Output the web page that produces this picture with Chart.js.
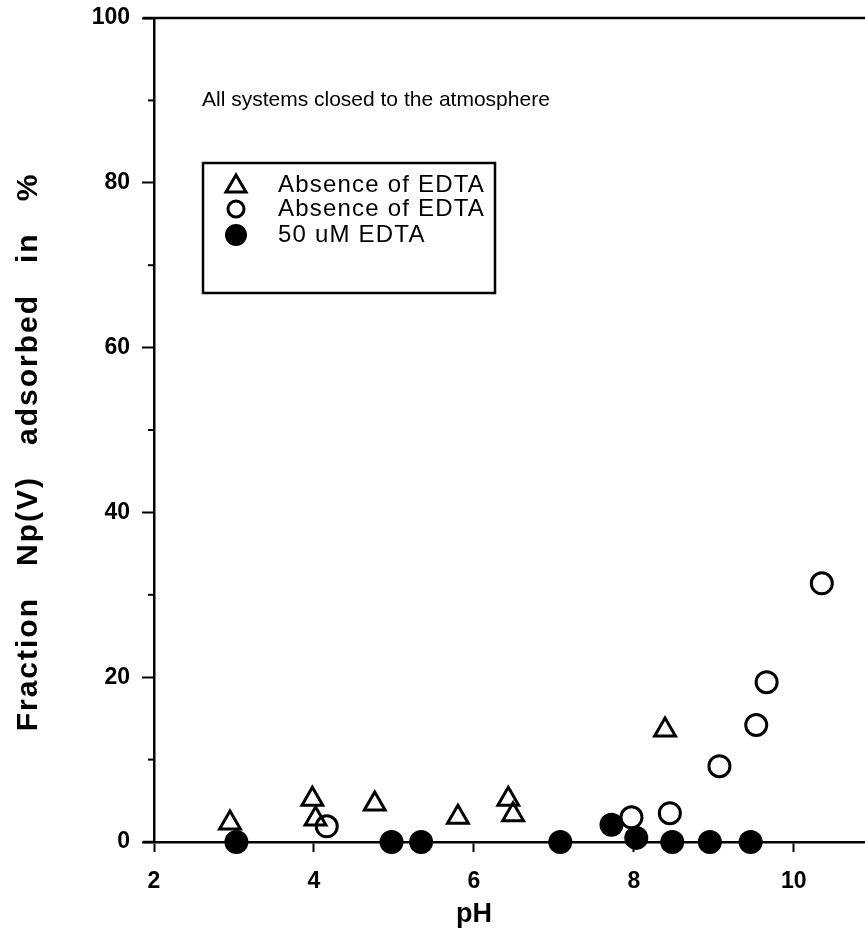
<!DOCTYPE html>
<html>
<head>
<meta charset="utf-8">
<script src="https://cdn.jsdelivr.net/npm/chart.js@4.4.1/dist/chart.umd.min.js"></script>
<style>
    html, body { margin: 0; padding: 0; background: #fff; overflow: hidden; }
    #wrap { width: 880px; height: 943px; }
</style>
</head>
<body>
<div id="wrap"><canvas id="c" width="880" height="943"></canvas></div>
<script>
// pH vs fraction adsorbed (%)
const triPH = [2.95, 3.98, 4.02, 4.76, 5.8, 6.43, 6.49, 8.39];
const triVal = [2.3, 5.2, 2.8, 4.6, 3.0, 5.2, 3.3, 13.6];

const openPH = [4.16, 7.97, 8.45, 9.07, 9.53, 9.66, 10.35];
const openVal = [1.9, 3.0, 3.5, 9.2, 14.2, 19.4, 31.4];

const fillPH = [3.03, 4.97, 5.34, 7.08, 7.72, 8.03, 8.48, 8.95, 9.46];
const fillVal = [0, 0, 0, 0, 2.1, 0.5, 0, 0, 0];

const xTicks = [2, 4, 6, 8, 10];
const yTicks = [0, 20, 40, 60, 80, 100];
const yMinor = [10, 30, 50, 70, 90];

const legendLabels = ["Absence of EDTA", "Absence of EDTA", "50 uM EDTA"];
const noteText = "All systems closed to the atmosphere";
const xTitle = "pH";
const yTitle = "Fraction   Np(V)   adsorbed   in   %";

const FONT = "'Liberation Sans', Arial, sans-serif";

function pts(xs, ys) {
    return xs.map(function (x, i) {
        return { x: x, y: ys[i] };
    });
}

function noPad(s) {
    s.paddingLeft = 0;
    s.paddingRight = 0;
    s.paddingTop = 0;
    s.paddingBottom = 0;
}

// axis titles, note, legend box and the top frame line
const decorations = {
    id: "decorations",
    afterDraw: function (chart) {
        const ctx = chart.ctx;
        const a = chart.chartArea;
        const xs = chart.scales.x;
        const ys = chart.scales.y;
        ctx.save();
        ctx.strokeStyle = "#000";
        ctx.fillStyle = "#000";

        // top frame line
        ctx.lineWidth = 2.5;
        ctx.beginPath();
        ctx.moveTo(a.left - 11, a.top);
        ctx.lineTo(chart.width, a.top);
        ctx.stroke();
        // baseline stub left of the y axis
        ctx.beginPath();
        ctx.moveTo(a.left - 11, a.bottom);
        ctx.lineTo(a.left, a.bottom);
        ctx.stroke();
        // minor y ticks
        ctx.lineWidth = 2;
        yMinor.forEach(function (v) {
            const py = ys.getPixelForValue(v);
            ctx.beginPath();
            ctx.moveTo(a.left - 6, py);
            ctx.lineTo(a.left, py);
            ctx.stroke();
        });

        // y title
        ctx.save();
        ctx.translate(29, 452);
        ctx.rotate(-Math.PI / 2);
        ctx.font = "bold 30px " + FONT;
        ctx.letterSpacing = "2px";
        ctx.textAlign = "center";
        ctx.textBaseline = "middle";
        ctx.fillText(yTitle, 0, 0);
        ctx.restore();

        // x title
        ctx.font = "bold 27px " + FONT;
        ctx.textAlign = "center";
        ctx.textBaseline = "middle";
        ctx.fillText(xTitle, xs.getPixelForValue(6), 915);

        // note
        ctx.font = "21px " + FONT;
        ctx.textAlign = "left";
        ctx.fillText(noteText, xs.getPixelForValue(2.6), ys.getPixelForValue(90));

        // legend box
        const bx = 203, by = 163, bw = 292, bh = 130;
        ctx.lineWidth = 2.5;
        ctx.strokeRect(bx, by, bw, bh);
        const rows = [185, 209, 235];
        const mx = 236;
        ctx.font = "24px " + FONT;
        ctx.letterSpacing = "1.2px";
        legendLabels.forEach(function (t, i) {
            ctx.fillText(t, 278, rows[i]);
        });
        ctx.letterSpacing = "0px";
        ctx.lineWidth = 3;
        // triangle
        ctx.beginPath();
        ctx.moveTo(mx, rows[0] - 10);
        ctx.lineTo(mx + 10, rows[0] + 7);
        ctx.lineTo(mx - 10, rows[0] + 7);
        ctx.closePath();
        ctx.stroke();
        // open circle
        ctx.beginPath();
        ctx.arc(mx, rows[1], 8, 0, Math.PI * 2);
        ctx.stroke();
        // filled circle
        ctx.beginPath();
        ctx.arc(mx, rows[2], 11, 0, Math.PI * 2);
        ctx.fill();

        ctx.restore();
    },
};

const ctx = document.getElementById("c").getContext("2d");
new Chart(ctx, {
    type: "scatter",
    data: {
        datasets: [
            {
                label: legendLabels[0],
                data: pts(triPH, triVal),
                pointStyle: "triangle",
                pointRadius: 12,
                borderWidth: 3,
                borderColor: "#000",
                backgroundColor: "rgba(255,255,255,0)",
                clip: false,
            },
            {
                label: legendLabels[1],
                data: pts(openPH, openVal),
                pointStyle: "circle",
                pointRadius: 10.5,
                borderWidth: 3,
                borderColor: "#000",
                backgroundColor: "#fff",
                clip: false,
            },
            {
                label: legendLabels[2],
                data: pts(fillPH, fillVal),
                pointStyle: "circle",
                pointRadius: 12,
                borderWidth: 0,
                borderColor: "#000",
                backgroundColor: "#000",
                clip: false,
            },
        ],
    },
    options: {
        responsive: false,
        animation: false,
        layout: { padding: { top: 18, right: 6, left: 0, bottom: 0 } },
        plugins: {
            legend: { display: false },
            tooltip: { enabled: false },
        },
        scales: {
            x: {
                type: "linear",
                min: 2,
                max: 10.89,
                afterBuildTicks: function (s) {
                    s.ticks = xTicks.map(function (v) {
                        return { value: v };
                    });
                },
                afterFit: function (s) {
                    s.height = 101;
                    noPad(s);
                },
                border: { display: true, color: "#000", width: 2.5 },
                grid: { display: true, drawOnChartArea: false, drawTicks: true, tickLength: 10, color: "#000", tickWidth: 2 },
                ticks: {
                    color: "#000",
                    padding: 16,
                    font: { family: FONT, size: 23, weight: "bold" },
                    maxRotation: 0,
                },
            },
            y: {
                type: "linear",
                min: 0,
                max: 100,
                afterBuildTicks: function (s) {
                    s.ticks = yTicks.map(function (v) {
                        return { value: v };
                    });
                },
                afterFit: function (s) {
                    s.width = 154;
                    noPad(s);
                },
                border: { display: true, color: "#000", width: 2.5 },
                grid: { display: true, drawOnChartArea: false, drawTicks: true, tickLength: 12, color: "#000", tickWidth: 2 },
                ticks: {
                    color: "#000",
                    padding: 12,
                    font: { family: FONT, size: 23, weight: "bold" },
                },
            },
        },
    },
    plugins: [decorations],
});
</script>
</body>
</html>
